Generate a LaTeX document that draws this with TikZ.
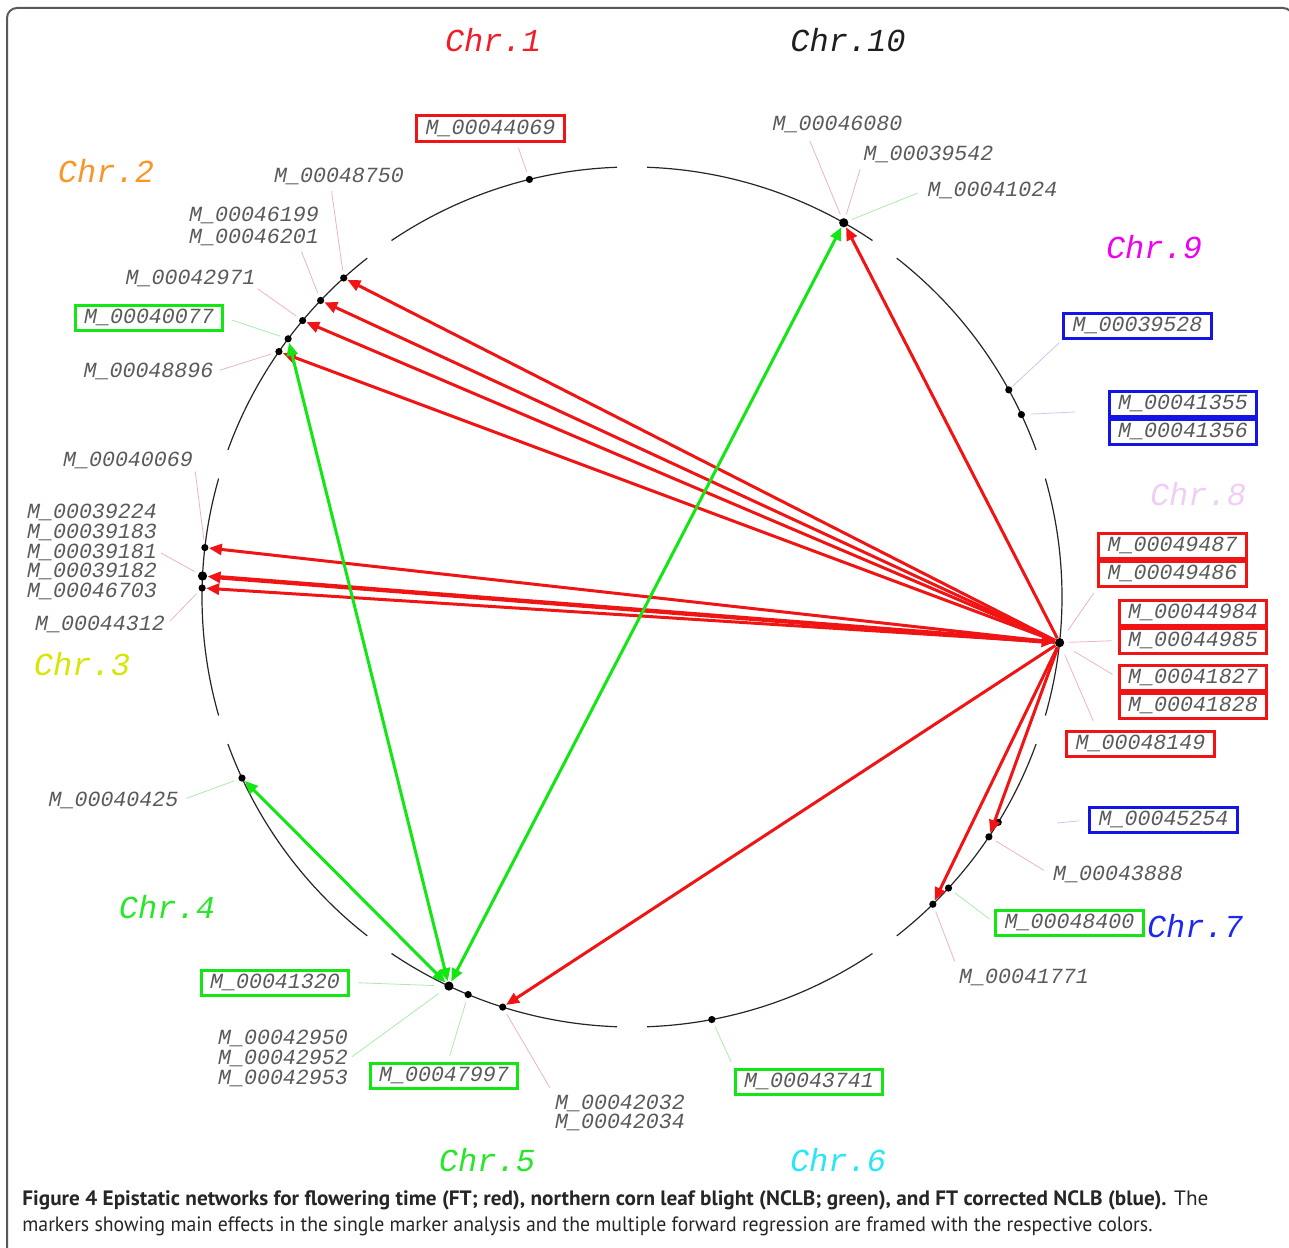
\documentclass[tikz,border=0pt]{standalone}
\usepackage{fontspec}
\usepackage{graphicx}
\setmainfont{PT Sans}
\setmonofont{Liberation Mono}
\usetikzlibrary{positioning,arrows.meta}

\definecolor{ftred}{RGB}{240,20,20}
\definecolor{nclbgreen}{RGB}{20,230,20}
\definecolor{fcblue}{RGB}{20,20,230}
\definecolor{mgray}{RGB}{90,90,90}
\definecolor{leadred}{RGB}{235,180,195}
\definecolor{leadgreen}{RGB}{170,235,170}
\definecolor{leadblue}{RGB}{200,200,240}
\definecolor{chrone}{RGB}{240,30,40}
\definecolor{chrtwo}{RGB}{250,150,40}
\definecolor{chrthree}{RGB}{215,230,0}
\definecolor{chrfour}{RGB}{40,230,40}
\definecolor{chrsix}{RGB}{40,230,245}
\definecolor{chrseven}{RGB}{30,40,240}
\definecolor{chreight}{RGB}{240,205,245}
\definecolor{chrnine}{RGB}{240,0,240}
\definecolor{chrten}{RGB}{30,30,30}

\tikzset{
  dot/.style={circle,fill=black,inner sep=0pt,minimum size=3.6pt},
  bigdot/.style={dot,minimum size=4.6pt},
  chrline/.style={line width=0.6pt,black!85},
  mk/.style={font=\fontsize{10.8}{11}\ttfamily\itshape,text=mgray,inner sep=1pt},
  mkbox/.style={mk,draw,line width=1.5pt,inner xsep=4.5pt,inner ysep=1pt,
    text height=8pt,text depth=2.5pt},
  redbox/.style={mkbox,draw=ftred},
  greenbox/.style={mkbox,draw=nclbgreen},
  bluebox/.style={mkbox,draw=fcblue},
  chr/.style={font=\fontsize{16}{16}\ttfamily\itshape,inner sep=0pt},
  leadR/.style={draw=leadred,line width=0.4pt,shorten >=2pt},
  leadG/.style={draw=leadgreen,line width=0.4pt,shorten >=2pt},
  leadB/.style={draw=leadblue,line width=0.4pt},
  ftarrow/.style={draw=ftred,line width=1.5pt,-{Triangle[length=6.5pt,width=5.5pt]}},
  ftboth/.style={draw=ftred,line width=2.2pt,
    {Triangle[length=6.5pt,width=5.5pt]}-{Triangle[length=6.5pt,width=5.5pt]}},
  nclbarrow/.style={draw=nclbgreen,line width=1.5pt,
    {Triangle[length=6.5pt,width=5.5pt]}-{Triangle[length=6.5pt,width=5.5pt]}},
  capline/.style={font=\fontsize{10.4}{12}\selectfont,inner sep=0pt,text=black!85},
  frame/.style={draw=black!65,line width=1pt,rounded corners=5pt}
}

\begin{document}
\begin{tikzpicture}[x=0.5pt,y=-0.5pt]
\useasboundingbox (0,0) rectangle (1289,1247);
\clip (0,0) rectangle (1289,1247);
\draw[frame] (7,1270) -- (7,8) -- (1293,8) -- (1293,1270);

% chromosomes
\begin{scope}[shift={(632,597)}]
  \foreach \a in {0,...,9}
    \draw[chrline] (20+36*\a:430) arc (20+36*\a:52+36*\a:430);
  % markers on the circle
  \node[dot] (d44069) at (256.2:430) {};
  \node[dot] (d48750) at (227.9:430) {};
  \node[dot] (d46199) at (223.6:430) {};
  \node[dot] (d42971) at (220.0:430) {};
  \node[dot] (d40077) at (216.9:430) {};
  \node[dot] (d48896) at (214.8:430) {};
  \node[dot] (d40069) at (186.6:430) {};
  \node[bigdot] (d39224) at (182.8:430) {};
  \node[dot] (d44312) at (181.2:430) {};
  \node[dot] (d40425) at (155.1:430) {};
  \node[bigdot] (d41320) at (115.2:430) {};
  \node[dot] (d47997) at (112.4:430) {};
  \node[dot] (d42032) at (107.5:430) {};
  \node[dot] (d43741) at (79.3:430) {};
  \node[dot] (d41771) at (45.6:430) {};
  \node[dot] (d48400) at (42.6:430) {};
  \node[dot] (d43888) at (33.9:430) {};
  \node[dot] (d45254) at (31.6:430) {};
  \node[bigdot] (dhub) at (6.1:430) {};
  \node[dot] (d39528) at (331.2:430) {};
  \node[dot] (d41355) at (334.9:430) {};
  \node[bigdot] (d46080) at (299.5:430) {};
\end{scope}

% chromosome names
\node[chr,text=chrone] (chr1) at (493,40) {Chr.1};
\node[chr,text=chrten] (chr10) at (848,40) {Chr.10};
\node[chr,text=chrnine] (chr9) at (1154,247) {Chr.9};
\node[chr,text=chreight] (chr8) at (1198,494) {Chr.8};
\node[chr,text=chrseven] (chr7) at (1195,926) {Chr.7};
\node[chr,text=chrsix] (chr6) at (838,1160) {Chr.6};
\node[chr,text=chrfour] (chr5) at (487,1160) {Chr.5};
\node[chr,text=chrfour] (chr4) at (167,907) {Chr.4};
\node[chr,text=chrthree] (chr3) at (82,664) {Chr.3};
\node[chr,text=chrtwo] (chr2) at (106,171) {Chr.2};

% marker labels
\node[redbox] (b44069) at (490.5,128.5) {M\_00044069};
\node[mk] (l48750) at (339,176.5) {M\_00048750};
\node[mk,align=left] (l46199) at (254,226) {M\_00046199\\M\_00046201};
\node[mk] (l42971) at (190.5,278) {M\_00042971};
\node[greenbox] (b40077) at (149,317.5) {M\_00040077};
\node[mk] (l48896) at (148.5,371.5) {M\_00048896};
\node[mk] (l40069) at (128,460.5) {M\_00040069};
\node[mk,align=left] (l39224) at (92,552) {M\_00039224\\[-1.2pt]M\_00039183\\[-1.2pt]M\_00039181\\[-1.2pt]M\_00039182\\[-1.2pt]M\_00046703};
\node[mk] (l44312) at (100,624) {M\_00044312};
\node[mk] (l40425) at (113.5,800.5) {M\_00040425};
\node[greenbox] (b41320) at (275,982.5) {M\_00041320};
\node[mk,align=left] (l42950) at (283,1058) {M\_00042950\\[-1pt]M\_00042952\\[-1pt]M\_00042953};
\node[greenbox] (b47997) at (444,1075.5) {M\_00047997};
\node[mk,align=left] (l42032) at (620,1113) {M\_00042032\\[-1.5pt]M\_00042034};
\node[greenbox] (b43741) at (809,1081.5) {M\_00043741};
\node[mk] (l41771) at (1024,977.5) {M\_00041771};
\node[greenbox] (b48400) at (1069.5,922.5) {M\_00048400};
\node[mk] (l43888) at (1118,874.5) {M\_00043888};
\node[bluebox] (b45254) at (1163.5,820) {M\_00045254};
\node[redbox] (b48149) at (1140.5,744) {M\_00048149};
\node[redbox] (b41827) at (1193,677.5) {M\_00041827};
\node[redbox,below=0pt of b41827] (b41828) {M\_00041828};
\node[redbox] (b44984) at (1193,612.5) {M\_00044984};
\node[redbox,below=0pt of b44984] (b44985) {M\_00044985};
\node[redbox] (b49487) at (1172.5,546) {M\_00049487};
\node[redbox,below=0pt of b49487] (b49486) {M\_00049486};
\node[bluebox] (b41355) at (1183,404) {M\_00041355};
\node[bluebox,below=0pt of b41355] (b41356) {M\_00041356};
\node[bluebox] (b39528) at (1137.5,326) {M\_00039528};
\node[mk] (l41024) at (992.5,190) {M\_00041024};
\node[mk] (l39542) at (928.5,154.5) {M\_00039542};
\node[mk] (l46080) at (837.5,124.5) {M\_00046080};
\coordinate (e45254) at (1057,823);
\coordinate (e41355) at (1075,412);

% leaders
\draw[leadR,shorten <=3pt] ([xshift=13pt]b44069.south) -- (d44069);
\draw[leadR,shorten <=2pt] ([xshift=-4pt]l48750.south) -- (d48750);
\draw[leadR,shorten <=2pt] ([xshift=23pt]l46199.south) -- (d46199);
\draw[leadR] (l42971.south east) -- (d42971);
\draw[leadG,shorten <=4pt] (b40077.east) -- (d40077);
\draw[leadR,shorten <=2pt] (l48896.east) -- (d48896);
\draw[leadR] (l40069.south east) -- (d40069);
\draw[leadR,shorten <=1pt] (l39224.east) -- (d39224);
\draw[leadR,shorten <=2pt] (l44312.east) -- (d44312);
\draw[leadG,shorten <=3pt] (l40425.east) -- (d40425);
\draw[leadG,shorten <=4pt,shorten >=5pt] (b41320.east) -- (d41320);
\draw[leadG,shorten <=1pt,shorten >=4pt] (l42950.east) -- (d41320);
\draw[leadG,shorten <=3pt] ([xshift=2pt]b47997.north) -- (d47997);
\draw[leadR,shorten <=3pt] (l42032.north west) -- (d42032);
\draw[leadG,shorten <=3pt] (b43741.north west) -- (d43741);
\draw[leadR,shorten <=3pt] (l41771.north west) -- (d41771);
\draw[leadG,shorten <=3pt] (b48400.west) -- (d48400);
\draw[leadR,shorten <=4pt] (l43888.west) -- (d43888);
\draw[leadB,shorten <=4.5pt] (b45254.west) -- (e45254);
\draw[leadR,shorten <=3pt,shorten >=5pt] (b49486.south west) -- (dhub);
\draw[leadR,shorten <=3pt,shorten >=2pt] (b44985.west) -- (dhub);
\draw[leadR,shorten <=3pt,shorten >=6pt] (b41827.west) -- (dhub);
\draw[leadR,shorten <=5pt,shorten >=4pt] ([xshift=16pt]b48149.north west) -- (dhub);
\draw[leadB,shorten <=3pt] (d41355) -- (e41355);
\draw[leadB,shorten <=2pt] (b39528.south west) -- (d39528);
\draw[leadG,shorten <=4pt] (l41024.west) -- (d46080);
\draw[leadR,shorten <=2pt] (l39542.south west) -- (d46080);
\draw[leadR,shorten <=3pt] ([xshift=-15pt]l46080.south) -- (d46080);

% epistatic interactions
\foreach \t in {d48750,d46199,d42971,d48896,d40069,d44312,d46080,d43888,d41771,d42032}
  \draw[ftarrow] (dhub) -- (\t);
\draw[ftboth] (dhub) -- (d39224);
\foreach \t in {d40077,d46080,d40425}
  \draw[nclbarrow] (d41320) -- (\t);

% caption
\node[capline,anchor=base west] (cap1) at (22,1205) {\resizebox{593pt}{\height}{\textbf{Figure 4 Epistatic networks for flowering time (FT; red), northern corn leaf blight (NCLB; green), and FT corrected NCLB (blue).} The}};
\node[capline,anchor=base west] (cap2) at (22,1231) {\resizebox{565pt}{\height}{markers showing main effects in the single marker analysis and the multiple forward regression are framed with the respective colors.}};
\end{tikzpicture}
\end{document}
